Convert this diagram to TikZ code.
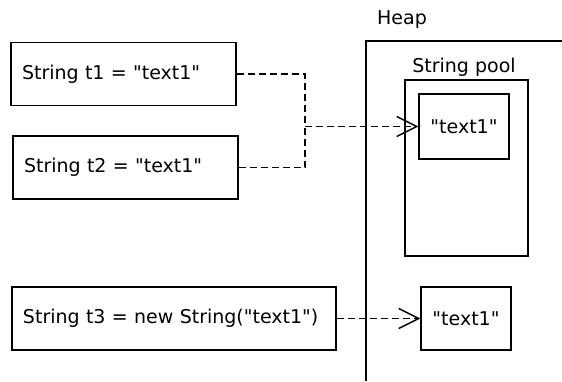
\documentclass[tikz,border=0pt]{standalone}
\usepackage{fontspec}
\setmainfont{DejaVu Sans}
\usetikzlibrary{arrows.meta}

\newcommand{\qt}[1]{\textquotedbl#1\textquotedbl}

\tikzset{
	codebox/.style={draw, line width=1.4pt, inner xsep=11pt, inner ysep=0pt, minimum height=63pt, align=left, font=\fontsize{19}{23}\selectfont},
	valbox/.style={draw, line width=1.4pt, inner sep=0pt, minimum width=90pt, minimum height=63pt, font=\fontsize{19}{23}\selectfont},
	label/.style={inner sep=0pt, font=\fontsize{19}{23}\selectfont},
	ref/.style={draw, line width=1.4pt, dash pattern=on 7pt off 4pt, -{Straight Barb[length=20pt, width=20pt, line width=1.4pt]}},
}

\begin{document}
\begin{tikzpicture}[x=1pt, y=-1pt]
\useasboundingbox (0,0) rectangle (562,381);
	% stack
\path
	(123.5,74) node [codebox, text width=203pt] (t1) {String t1 = \qt{text1}}
	(125.5,167.5) node [codebox, text width=203pt] (t2) {String t2 = \qt{text1}}
	(174,318.5) node [codebox, text width=302pt] (t3) {String t3 = new String(\qt{text1})}
	;

	% heap
\draw [line width=1.4pt] (366,381) -- (366,41) -- (562,41);
\path
	(466.5,168) node [draw, line width=1.4pt, minimum width=123pt, minimum height=176pt] (poolbox) {}
	(402,20) node [label] (heap) {Heap}
	(464,67) node [label] (pool) {String pool}
	(464,126.5) node [valbox, minimum height=65pt] (s1) {\qt{text1}}
	(466,318.5) node [valbox] (s3) {\qt{text1}}
	;

	% references
\coordinate (j) at (305,126.5);
\draw [line width=1.4pt, dash pattern=on 7pt off 4pt] (t1.east) -| (j) (t2.east) -| (j);
\draw [ref] (j) -- (s1.west);
\draw [ref] (t3.east) -- (s3.west);
\end{tikzpicture}
\end{document}
